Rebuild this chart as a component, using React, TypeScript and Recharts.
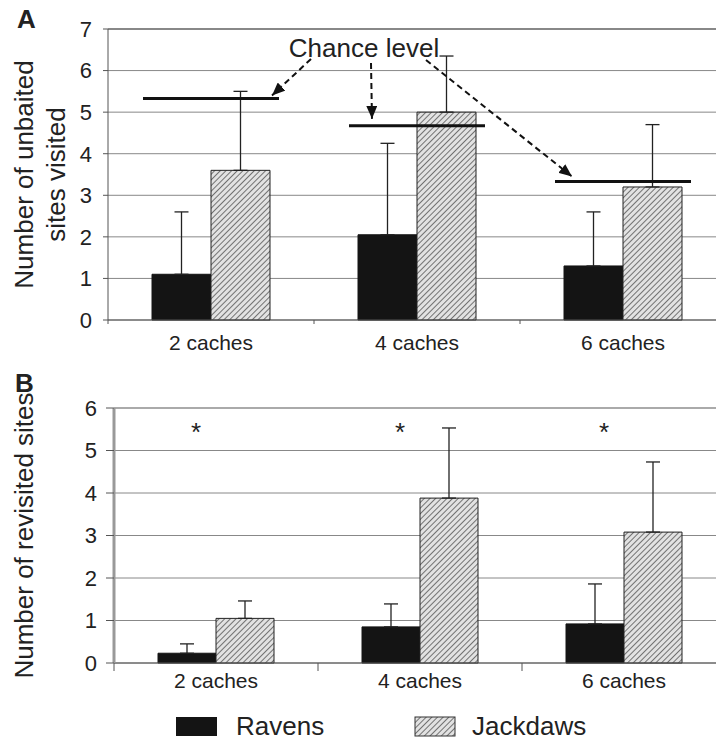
import React from "react";
import {
  ComposedChart,
  Bar,
  Line,
  XAxis,
  YAxis,
  CartesianGrid,
  ErrorBar,
  ReferenceLine,
  Label,
} from "recharts";

const CATEGORIES = ["2 caches", "4 caches", "6 caches"];

// Panel A: number of unbaited sites visited (mean, upper SD)
const UNBAITED_RAVENS = [1.1, 2.05, 1.3];
const UNBAITED_RAVENS_SD = [1.5, 2.2, 1.3];
const UNBAITED_JACKDAWS = [3.6, 5.0, 3.2];
const UNBAITED_JACKDAWS_SD = [1.9, 1.35, 1.5];
const CHANCE_LEVEL = [5.33, 4.67, 3.33];
const TICKS_A = [0, 1, 2, 3, 4, 5, 6, 7];

// Panel B: number of revisited sites (mean, upper SD)
const REVISITED_RAVENS = [0.23, 0.85, 0.92];
const REVISITED_RAVENS_SD = [0.22, 0.54, 0.94];
const REVISITED_JACKDAWS = [1.05, 3.88, 3.08];
const REVISITED_JACKDAWS_SD = [0.41, 1.65, 1.65];
const SIGNIFICANT = [true, true, true];
const STAR_LEVEL = 5.55;
const TICKS_B = [0, 1, 2, 3, 4, 5, 6];

const FONT = "'Liberation Sans', Arial, Helvetica, sans-serif";
const CHART_W = 740;
const RIGHT = 14;

const dataA = CATEGORIES.map((name, i) => ({
  name,
  ravens: UNBAITED_RAVENS[i],
  ravensErr: [0, UNBAITED_RAVENS_SD[i]],
  jackdaws: UNBAITED_JACKDAWS[i],
  jackdawsErr: [0, UNBAITED_JACKDAWS_SD[i]],
  chance: CHANCE_LEVEL[i],
}));

const dataB = CATEGORIES.map((name, i) => ({
  name,
  ravens: REVISITED_RAVENS[i],
  ravensErr: [0, REVISITED_RAVENS_SD[i]],
  jackdaws: REVISITED_JACKDAWS[i],
  jackdawsErr: [0, REVISITED_JACKDAWS_SD[i]],
  star: SIGNIFICANT[i] ? STAR_LEVEL : null,
}));

// dashed arrows from the "Chance level" caption to each chance line
const ARROW_TAILS = [
  [311, 59],
  [371, 63],
  [426, 60],
];
const ARROW_TIP_OFFSET = [
  [61, -3],
  [-45, -7],
  [-51, -5],
];

function HatchDefs({ id }: { id: string }) {
  return (
    <defs>
      <pattern
        id={id}
        width={4}
        height={4}
        patternUnits="userSpaceOnUse"
        patternTransform="rotate(45)"
      >
        <rect width={4} height={4} fill="#e2e2e2" />
        <line x1={0} y1={0} x2={0} y2={4} stroke="#555" strokeWidth={1.6} />
      </pattern>
      <marker
        id="arrowHead"
        markerWidth={13}
        markerHeight={11}
        refX={13}
        refY={5.5}
        orient="auto"
        markerUnits="userSpaceOnUse"
      >
        <path d="M0,0 L13,5.5 L0,11 z" fill="#111" />
      </marker>
    </defs>
  );
}

function makeXTick(plotLeft: number, bandCount: number, baseline: number, tickLen: number) {
  const band = (CHART_W - RIGHT - plotLeft) / bandCount;
  return (props: any) => {
    const { x, y, payload } = props;
    return (
      <g>
        <line x1={x - band / 2} x2={x - band / 2} y1={y} y2={y + tickLen} stroke="#555" />
        <text
          x={x}
          y={y + baseline}
          textAnchor="middle"
          fontSize={21}
          fontFamily={FONT}
          fill="#222"
        >
          {payload.value}
        </text>
      </g>
    );
  };
}

function makeYLabel(lines: string[], xs: number[]) {
  return (props: any) => {
    const { viewBox } = props;
    const cy = viewBox.y + viewBox.height / 2;
    return (
      <g>
        {lines.map((t, i) => (
          <text
            key={t}
            x={xs[i]}
            y={cy}
            transform={`rotate(-90 ${xs[i]} ${cy})`}
            textAnchor="middle"
            fontSize={26}
            fontFamily={FONT}
            fill="#222"
          >
            {t}
          </text>
        ))}
      </g>
    );
  };
}

const renderChance = (props: any) => {
  const { cx, cy, index } = props;
  const [tx, ty] = ARROW_TAILS[index];
  const [dx, dy] = ARROW_TIP_OFFSET[index];
  return (
    <g key={`chance-${index}`}>
      <line x1={cx - 68} x2={cx + 68} y1={cy} y2={cy} stroke="#111" strokeWidth={3} />
      <line
        x1={tx}
        y1={ty}
        x2={cx + dx}
        y2={cy + dy}
        stroke="#111"
        strokeWidth={2}
        strokeDasharray="6 4"
        markerEnd="url(#arrowHead)"
      />
    </g>
  );
};

const renderStar = (props: any) => {
  const { cx, cy, index } = props;
  if (cy == null) return <g key={`star-${index}`} />;
  return (
    <text
      key={`star-${index}`}
      x={cx - 20}
      y={cy + 14}
      textAnchor="middle"
      fontSize={26}
      fontFamily={FONT}
      fill="#222"
    >
      *
    </text>
  );
};

const tickStyle = { fill: "#222", fontSize: 22, fontFamily: FONT };

export default function App() {
  return (
    <div
      style={{
        position: "absolute",
        left: 0,
        top: 0,
        width: 716,
        height: 742,
        overflow: "hidden",
        background: "#fff",
        fontFamily: FONT,
      }}
    >
      <div style={{ position: "absolute", left: 0, top: 0 }}>
        <ComposedChart
          width={CHART_W}
          height={360}
          data={dataA}
          margin={{ top: 29, right: RIGHT, bottom: 10, left: 0 }}
          barCategoryGap={44}
          barGap={0}
        >
          <HatchDefs id="hatchA" />
          <CartesianGrid vertical={false} stroke="#888" />
          <XAxis
            dataKey="name"
            height={30}
            tickLine={false}
            tickSize={0}
            tickMargin={0}
            axisLine={{ stroke: "#555" }}
            tick={makeXTick(108, 3, 30, 4)}
            interval={0}
          />
          <YAxis
            width={108}
            domain={[0, 7]}
            ticks={TICKS_A}
            tickSize={5}
            tickMargin={11}
            tick={tickStyle}
            axisLine={{ stroke: "#555" }}
            tickLine={{ stroke: "#555" }}
          >
            <Label content={makeYLabel(["Number of unbaited", "sites visited"], [33, 65])} />
          </YAxis>
          <ReferenceLine y={7} stroke="#888" strokeWidth={2} />
          <Bar dataKey="ravens" fill="#141414" stroke="#141414" isAnimationActive={false}>
            <ErrorBar dataKey="ravensErr" width={7} stroke="#222" strokeWidth={1.3} direction="y" />
          </Bar>
          <Bar dataKey="jackdaws" fill="url(#hatchA)" stroke="#222" strokeWidth={1} isAnimationActive={false}>
            <ErrorBar dataKey="jackdawsErr" width={7} stroke="#222" strokeWidth={1.3} direction="y" />
          </Bar>
          <Line
            dataKey="chance"
            stroke="none"
            dot={renderChance}
            activeDot={false}
            isAnimationActive={false}
          />
          <text x={364} y={57} textAnchor="middle" fontSize={26} fontFamily={FONT} fill="#222">
            Chance level
          </text>
          <text x={17} y={28} fontSize={26} fontWeight="bold" fontFamily={FONT} fill="#222">
            A
          </text>
        </ComposedChart>
      </div>

      <div style={{ position: "absolute", left: 0, top: 345 }}>
        <ComposedChart
          width={CHART_W}
          height={397}
          data={dataB}
          margin={{ top: 63, right: RIGHT, bottom: 49, left: 0 }}
          barCategoryGap={44}
          barGap={0}
        >
          <HatchDefs id="hatchB" />
          <CartesianGrid vertical={false} stroke="#888" />
          <XAxis
            dataKey="name"
            height={30}
            tickLine={false}
            tickSize={0}
            tickMargin={0}
            axisLine={{ stroke: "#555" }}
            tick={makeXTick(114, 3, 25, 8)}
            interval={0}
          />
          <YAxis
            width={114}
            domain={[0, 6]}
            ticks={TICKS_B}
            tickSize={8}
            tickMargin={9}
            tick={tickStyle}
            axisLine={{ stroke: "#999", strokeWidth: 3 }}
            tickLine={{ stroke: "#555" }}
          >
            <Label content={makeYLabel(["Number of revisited sites"], [33])} />
          </YAxis>
          <ReferenceLine y={6} stroke="#aaa" strokeWidth={2} />
          <Bar dataKey="ravens" fill="#141414" stroke="#141414" isAnimationActive={false}>
            <ErrorBar dataKey="ravensErr" width={7} stroke="#222" strokeWidth={1.3} direction="y" />
          </Bar>
          <Bar dataKey="jackdaws" fill="url(#hatchB)" stroke="#222" strokeWidth={1} isAnimationActive={false}>
            <ErrorBar dataKey="jackdawsErr" width={7} stroke="#222" strokeWidth={1.3} direction="y" />
          </Bar>
          <Line
            dataKey="star"
            stroke="none"
            dot={renderStar}
            activeDot={false}
            isAnimationActive={false}
          />
          <text x={15} y={47} fontSize={26} fontWeight="bold" fontFamily={FONT} fill="#222">
            B
          </text>
          {/* legend */}
          <rect x={176} y={372} width={41} height={19} fill="#141414" />
          <text x={236} y={390} fontSize={26} fontFamily={FONT} fill="#222">
            Ravens
          </text>
          <rect x={415} y={372} width={40} height={19} fill="url(#hatchB)" stroke="#333" />
          <text x={472} y={390} fontSize={26} fontFamily={FONT} fill="#222">
            Jackdaws
          </text>
        </ComposedChart>
      </div>
    </div>
  );
}
